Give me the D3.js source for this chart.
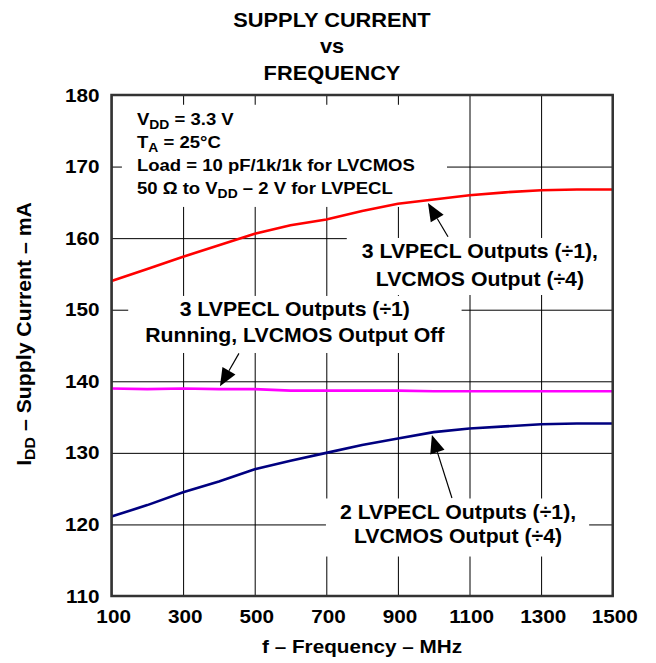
<!DOCTYPE html>
<html>
<head>
<meta charset="utf-8">
<script src="https://cdn.jsdelivr.net/npm/d3@7"></script>
<style>
  body { margin: 0; background: #fff; }
  svg { display: block; font-family: "Liberation Sans", Arial, sans-serif; font-weight: bold; }
</style>
</head>
<body>
<svg width="656" height="663"></svg>
<script>
// frequency (MHz) and supply current (mA)
const freq = [100, 200, 300, 400, 500, 600, 700, 800, 900, 1000, 1100, 1200, 1300, 1400, 1500];
const pecl3Cmos = [154.0, 155.7, 157.4, 159.0, 160.6, 161.8, 162.6, 163.8, 164.8, 165.4, 166.0, 166.4, 166.7, 166.8, 166.8];
const pecl3Off = [139.0, 138.9, 139.0, 138.9, 138.9, 138.7, 138.7, 138.7, 138.7, 138.6, 138.6, 138.6, 138.6, 138.6, 138.6];
const pecl2Cmos = [121.1, 122.7, 124.5, 126.0, 127.7, 128.9, 130.0, 131.1, 132.0, 132.9, 133.4, 133.7, 134.0, 134.1, 134.1];
const xTicks = [100, 300, 500, 700, 900, 1100, 1300, 1500];
const yTicks = [110, 120, 130, 140, 150, 160, 170, 180];
const titleLines = ["SUPPLY CURRENT", "vs", "FREQUENCY"];

const series = [
  { values: pecl3Cmos, color: "#ff0000" },
  { values: pecl3Off, color: "#ff00ff" },
  { values: pecl2Cmos, color: "#000080" }
];

const svg = d3.select("svg");
const SX = 1.09; // the source glyphs are a bit wider than Liberation Sans
const plotL = 111.5, plotR = 612.7, plotT = 95, plotB = 596;

const x = d3.scaleLinear().domain([100, 1500]).range([plotL, plotR]);
const y = d3.scaleLinear().domain([110, 180]).range([plotB, plotT]);

// grid
svg.append("g")
  .attr("transform", `translate(0,${plotB})`)
  .call(d3.axisBottom(x).tickValues(xTicks).tickSize(-(plotB - plotT)).tickFormat(""))
  .call(g => g.select(".domain").remove())
  .call(g => g.selectAll("line").attr("stroke", "#000").attr("stroke-width", 1));
svg.append("g")
  .attr("transform", `translate(${plotL},0)`)
  .call(d3.axisLeft(y).tickValues(yTicks).tickSize(-(plotR - plotL)).tickFormat(""))
  .call(g => g.select(".domain").remove())
  .call(g => g.selectAll("line").attr("stroke", "#000").attr("stroke-width", 1));

const maskLayer = svg.append("g");
const lineLayer = svg.append("g");
const textLayer = svg.append("g");

// curves
const line = d3.line().x((d, i) => x(freq[i])).y(d => y(d));
lineLayer.selectAll("path").data(series).join("path")
  .attr("fill", "none")
  .attr("stroke", d => d.color)
  .attr("stroke-width", 2.6)
  .attr("d", d => line(d.values));

// text helper: parts = [[str, isSub], ...]
function richText(parent, px, py, size, anchor, parts, rot = 0) {
  const t = parent.append("text")
    .attr("transform", `translate(${px},${py}) rotate(${rot}) scale(${SX},1)`)
    .attr("font-size", size)
    .attr("text-anchor", anchor);
  let shifted = false;
  parts.forEach(([s, sub]) => {
    const ts = t.append("tspan").text(s);
    if (sub && !shifted) { ts.attr("dy", 4).attr("font-size", size * 0.75); shifted = true; }
    else if (!sub && shifted) { ts.attr("dy", -4); shifted = false; }
  });
  return t;
}

// label block with a white box that cuts the grid behind it; pad = [left, right, top, bottom]
function label(lines, fx, fv, anchor, size, gap, pad) {
  const g = textLayer.append("g");
  lines.forEach((parts, i) => richText(g, x(fx), y(fv) + i * gap, size, anchor, parts));
  const b = g.node().getBBox();
  const x0 = Math.max(plotL, b.x - pad[0]);
  const x1 = Math.min(plotR, b.x + b.width + pad[1]);
  maskLayer.append("rect")
    .attr("x", x0).attr("y", b.y - pad[2])
    .attr("width", x1 - x0).attr("height", b.height + pad[2] + pad[3])
    .attr("fill", "#fff");
}

// conditions box
label([
  [["V"], ["DD", true], [" = 3.3 V"]],
  [["T"], ["A", true], [" = 25°C"]],
  [["Load = 10 pF/1k/1k for LVCMOS"]],
  [["50 Ω to V"], ["DD", true], [" – 2 V for LVPECL"]]
], 171, 175.8, "start", 17, 23, [15, 32, 5, 6]);

label([
  [["3 LVPECL Outputs (÷1),"]],
  [["LVCMOS Output (÷4)"]]
], 1129, 157.2, "middle", 19.5, 28, [15, 20, 3, 5]);

label([
  [["3 LVPECL Outputs (÷1)"]],
  [["Running, LVCMOS Output Off"]]
], 612, 149.1, "middle", 19.5, 26, [17, 17, 3, 7]);

label([
  [["2 LVPECL Outputs (÷1),"]],
  [["LVCMOS Output (÷4)"]]
], 1068, 120.8, "middle", 19.5, 24, [14, 13, 3, 10]);

// arrows: tail -> tip in data units
const arrows = [
  { from: [1040, 160.2], to: [984, 164.9] },
  { from: [456, 143.9], to: [403, 139.3] },
  { from: [1051, 123.7], to: [995, 132.5] }
];
arrows.forEach(a => {
  const x1 = x(a.from[0]), y1 = y(a.from[1]), x2 = x(a.to[0]), y2 = y(a.to[1]);
  const ang = Math.atan2(y2 - y1, x2 - x1);
  const len = 18, hw = 7.5;
  const bx = x2 - len * Math.cos(ang), by = y2 - len * Math.sin(ang);
  textLayer.append("line")
    .attr("x1", x1).attr("y1", y1).attr("x2", bx).attr("y2", by)
    .attr("stroke", "#000").attr("stroke-width", 1.2);
  const px = -Math.sin(ang) * hw, py = Math.cos(ang) * hw;
  textLayer.append("path")
    .attr("d", `M${x2},${y2}L${bx + px},${by + py}L${bx - px},${by - py}Z`)
    .attr("fill", "#000");
});

// tick labels
svg.append("g")
  .attr("transform", `translate(0,${plotB})`)
  .call(d3.axisBottom(x).tickValues(xTicks).tickFormat(d3.format("d")).tickSize(0).tickPadding(14))
  .call(g => g.select(".domain").remove())
  .call(g => g.selectAll("text")
    .attr("font-size", 19).attr("fill", "#000")
    .attr("transform", `scale(${SX},1)`).attr("x", 1.5));
svg.append("g")
  .attr("transform", `translate(${plotL},0)`)
  .call(d3.axisLeft(y).tickValues(yTicks).tickSize(0).tickPadding(11))
  .call(g => g.select(".domain").remove())
  .call(g => g.selectAll("text")
    .attr("font-size", 19).attr("fill", "#000")
    .attr("transform", `scale(${SX},1)`));
svg.selectAll("g[font-family]").attr("font-family", null).attr("font-size", null);

// titles
titleLines.forEach((t, i) => {
  richText(svg, 332, [27, 53, 80][i], 20, "middle", [[t]]);
});
richText(svg, (plotL + plotR) / 2, 653, 19, "middle", [["f – Frequency – MHz"]]);
richText(svg, 31, 334, 19.5, "middle",
  [["I"], ["DD", true], [" – Supply Current – mA"]], -90);

// frame
svg.append("rect")
  .attr("x", plotL).attr("y", plotT)
  .attr("width", plotR - plotL).attr("height", plotB - plotT)
  .attr("fill", "none").attr("stroke", "#333").attr("stroke-width", 2.5);
</script>
</body>
</html>
